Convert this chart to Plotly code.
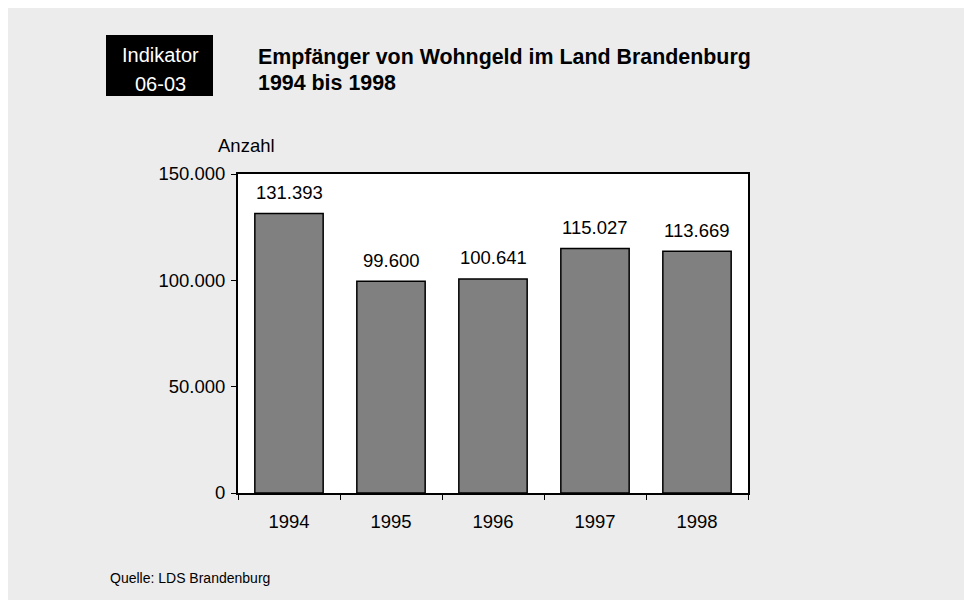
import plotly.graph_objects as go

years = ["1994", "1995", "1996", "1997", "1998"]
values = [131393, 99600, 100641, 115027, 113669]
y_ticks = [0, 50000, 100000, 150000]

def de(n):
    return f"{n:,}".replace(",", ".")

FONT = "Liberation Sans, Arial, sans-serif"

fig = go.Figure()
fig.add_trace(go.Bar(
    x=years, y=values, width=0.67,
    marker=dict(color="#808080", line=dict(color="black", width=1.5)),
    hoverinfo="skip",
))

for i, v in enumerate(values):
    fig.add_annotation(x=i, y=v, xref="x", yref="y", text=de(v), showarrow=False,
                       yanchor="middle", yshift=21,
                       font=dict(family=FONT, size=18.5, color="black"))

# page body has an 8px margin: figure coords = window coords - 8
fig.update_layout(
    width=972, height=600,
    margin=dict(l=230, r=232, t=166, b=115),
    paper_bgcolor="#ECECEC",
    plot_bgcolor="white",
    showlegend=False,
    separators=",.",
    font=dict(family=FONT, size=18.5, color="black"),
    xaxis=dict(
        type="category", range=[-0.5, 4.5], tickson="boundaries", ticks="outside", ticklen=5,
        tickcolor="black", tickwidth=1, showgrid=False,
        showline=True, linecolor="black", linewidth=2, mirror=True,
        tickfont=dict(family=FONT, size=18.5), ticklabelstandoff=11,
    ),
    yaxis=dict(
        range=[0, 150000], tickvals=y_ticks, ticktext=[de(t) for t in y_ticks],
        ticks="outside", ticklen=5, tickcolor="black", tickwidth=1,
        showgrid=False, zeroline=False,
        showline=True, linecolor="black", linewidth=2, mirror=True,
        tickfont=dict(family=FONT, size=18.5), ticklabelstandoff=2,
    ),
)

def px_x(x):
    return (x - 238) / 510

def px_y(y):
    return (493 - y) / 319

fig.add_shape(type="rect", xref="paper", yref="paper", layer="above",
              x0=px_x(106), x1=px_x(213), y0=px_y(96), y1=px_y(35),
              fillcolor="black", line=dict(width=0))

extra = [
    dict(x=px_x(160), y=px_y(55), text="Indikator", font=dict(color="white", size=20)),
    dict(x=px_x(160), y=px_y(84), text="06-03", font=dict(color="white", size=20)),
    dict(x=px_x(256), y=px_y(57.5), text="<b>Empfänger von Wohngeld im Land Brandenburg</b>",
         xanchor="left", font=dict(size=21.4)),
    dict(x=px_x(256), y=px_y(83.5), text="<b>1994 bis 1998</b>", xanchor="left", font=dict(size=21.4)),
    dict(x=px_x(246), y=px_y(145), text="Anzahl", font=dict(size=18.5)),
    dict(x=px_x(108), y=px_y(578), text="Quelle: LDS Brandenburg", xanchor="left", font=dict(size=14)),
]
for a in extra:
    a.setdefault("xanchor", "center")
    f = a.pop("font")
    f.setdefault("color", "black")
    f["family"] = FONT
    fig.add_annotation(xref="paper", yref="paper", showarrow=False, yanchor="middle",
                       font=f, **a)

fig.write_html("out.html")
